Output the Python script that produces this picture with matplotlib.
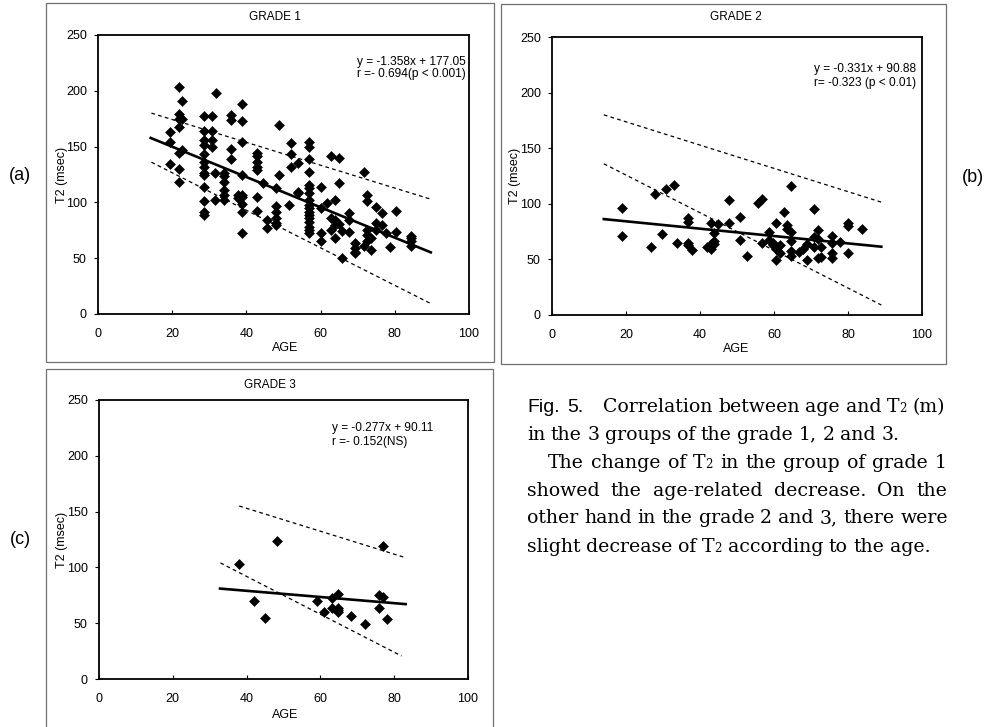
import matplotlib
matplotlib.use("Agg")
import matplotlib.pyplot as plt
from matplotlib.patches import Rectangle

W, H = 992, 727
SANS = ['Liberation Sans', 'DejaVu Sans']
SERIF = ['DejaVu Serif', 'Liberation Serif']
plt.rcParams['font.family'] = SANS

# ---- values ----
age_g1 = [19.5, 19.5, 19.5,
          21.7, 21.7, 21.7, 21.7, 21.7, 21.7, 21.7,
          22.6, 22.6, 22.6,
          28.6, 28.6, 28.6, 28.6, 28.6, 28.6, 28.6, 28.6, 28.6, 28.6, 28.6, 28.6, 28.6,
          30.6, 30.6, 30.6, 30.6, 31.7, 31.5, 31.5,
          34.0, 34.0, 34.0, 34.0, 34.0, 34.0,
          35.8, 35.8, 35.8, 35.8,
          38.7, 38.7, 38.7, 38.7, 38.7, 38.7, 38.7, 38.7, 38.7, 37.8, 37.8,
          42.8, 42.8, 42.8, 42.8, 42.8, 42.8, 42.8,
          44.6, 45.5, 45.5,
          48.0, 48.0, 48.0, 48.0, 48.0, 48.0, 48.7, 48.8,
          52.0, 52.0, 52.0, 51.4, 53.8, 53.8, 53.8,
          57.0, 57.0, 57.0, 57.0, 57.0, 57.0, 57.0, 57.0, 57.0, 57.0, 57.0, 57.0, 57.0,
          57.0, 57.0, 57.0, 57.0,
          60.0, 60.0, 60.0, 60.0, 61.8, 62.7, 62.7, 62.7,
          63.9, 63.9, 63.9, 63.9, 64.9, 64.9, 64.9, 65.8, 65.8,
          67.7, 67.7, 67.7, 69.4, 69.4, 69.4, 69.4, 71.6, 71.6,
          72.5, 72.5, 72.5, 72.5, 72.5, 73.7, 73.7, 74.8, 74.8, 74.8,
          76.6, 76.6, 77.7, 78.6, 80.4, 80.4, 84.5, 84.5, 84.5, 84.5]
t2_g1 = [163, 154, 134,
         203, 179, 175, 168, 144, 130, 118.5,
         190.5, 175, 147,
         177, 164, 155.6, 151, 143.8, 136, 132, 126.5, 124.4, 114, 101, 91.7, 88.7,
         177, 164, 155.6, 149.7, 198, 126.5, 102,
         126.5, 124, 118.5, 111, 106.5, 102,
         178, 173.5, 148, 139,
         188.4, 173, 154, 124.4, 106.5, 105, 99, 91.7, 73, 106.5, 103.6,
         144, 142, 136, 132, 129, 105, 92,
         117.6, 84, 77,
         112.5, 96.7, 91.7, 85.7, 81.8, 79.8, 124.4, 169,
         153, 143, 132, 97.6, 135.4, 109.5, 108,
         154, 149.7, 139, 127.4, 115.5, 112.5, 108, 102, 97.6, 94.6, 91.7, 88.7, 85.7,
         82.7, 78.3, 75.3, 72.3,
         114, 94.6, 73, 65.5, 99.7, 141.4, 85.7, 75.3,
         102, 84, 79.8, 67.9, 140, 117.6, 80.7, 74.4, 50,
         90.8, 84, 73.8, 63.4, 59, 56, 55, 127.4, 61,
         107, 101.5, 75.3, 70.8, 65, 57.4, 67.9, 96, 81.8, 75.3,
         90.8, 79.8, 72.3, 60.4, 92, 73.8, 70, 67.9, 65, 61]

age_g2 = [19.0, 19.0, 26.8, 27.8, 29.8, 30.8, 33.0, 33.8,
          36.8, 36.8, 36.8, 36.8, 37.9, 42.0, 42.9, 42.9, 42.9,
          43.8, 43.8, 43.8, 44.9, 47.8, 47.8, 50.8, 50.8, 52.8,
          55.7, 56.7, 56.7, 58.7, 58.7, 59.6, 59.6, 60.6, 60.6, 60.6,
          61.6, 61.6, 62.7, 63.6, 63.6, 64.7, 64.7, 64.7, 64.7, 64.7,
          66.8, 67.8, 68.8, 68.8, 70.7, 70.7, 70.7, 71.8, 71.8, 71.8,
          72.7, 72.7, 75.6, 75.6, 75.6, 75.6, 77.8, 79.9, 79.9, 79.9, 83.7]
t2_g2 = [96, 71, 61, 108.4, 72.4, 113.5, 117, 65,
         87.4, 83.5, 64.6, 62.5, 58.9, 61.6, 82.9, 63.4, 59.5,
         73.6, 66.4, 64, 82, 103.6, 82.6, 88, 67.6, 53.5,
         101, 104.5, 65, 75, 67, 64.6, 62.5, 82.6, 59.5, 49.5,
         62.5, 55.6, 92.5, 80.5, 77.5, 115.6, 74.5, 66.4, 58, 53.5,
         57, 59.5, 64, 49.5, 95, 70, 61, 76.6, 68.5, 51,
         61, 52, 70.6, 64.6, 55.6, 51, 66, 82.6, 80, 56, 77]

age_g3 = [38.0, 42.0, 45.1, 48.2, 59.2, 61.0, 63.1, 63.1,
          64.9, 64.9, 64.9, 64.9, 68.2, 72.1, 75.9, 75.9, 77.1, 77.1, 78.0]
t2_g3 = [102.7, 69.9, 54.3, 123.3, 69.9, 60.3, 72.2, 63.3,
         75.8, 63.9, 61.8, 60.3, 56.4, 49.3, 75.2, 63.9, 119, 73.7, 53.4]

# regression: slope, intercept, x from, x to
fit_g1 = (-1.358, 177.05, 14.2, 89.7)
fit_g2 = (-0.331, 90.88, 14.0, 89.0)
fit_g3 = (-0.277, 90.11, 32.8, 83.1)

# dashed limit lines (x start, x end) and (y start, y end)
hi_x_g1, hi_y_g1 = [14.4, 89.6], [180, 103]
lo_x_g1, lo_y_g1 = [14.4, 89.6], [136, 9.5]
hi_x_g2, hi_y_g2 = [14.0, 89.0], [180, 101.5]
lo_x_g2, lo_y_g2 = [14.0, 89.0], [136, 9]
hi_x_g3, hi_y_g3 = [38.0, 83.1], [155, 108.7]
lo_x_g3, lo_y_g3 = [32.9, 82.0], [104, 20.6]

fig = plt.figure(figsize=(W / 100, H / 100), dpi=100)


def fx(x):
    return x / W


def fy(y):
    return 1 - y / H


def frame(l, t, r, b):
    fig.add_artist(Rectangle((fx(l), fy(b)), (r - l) / W, (b - t) / H,
                             transform=fig.transFigure, fill=False,
                             ec='#707070', lw=0.9))


def panel(box, ages, t2s, fit, hx, hy, lx, ly, labx, agex, agey):
    l, t, r, b = box
    ax = fig.add_axes([fx(l), fy(b), (r - l) / W, (b - t) / H])
    ax.plot(ages, t2s, 'D', color='black', ms=4.6, mew=0.4, zorder=3)
    k, c, x0, x1 = fit
    ax.plot([x0, x1], [k * x0 + c, k * x1 + c], color='black', lw=1.9)
    ax.plot(hx, hy, color='black', lw=0.9, ls=(0, (3, 2.6)))
    ax.plot(lx, ly, color='black', lw=0.9, ls=(0, (3, 2.6)))
    ax.set_xlim(0, 100)
    ax.set_ylim(0, 250)
    ax.set_xticks([0, 20, 40, 60, 80, 100])
    ax.set_yticks([0, 50, 100, 150, 200, 250])
    ax.tick_params(axis='x', direction='in', length=3, pad=10, labelsize=9)
    ax.tick_params(axis='y', direction='out', length=3, pad=5, labelsize=9)
    for s in ax.spines.values():
        s.set_linewidth(1.3)
    ax.set_ylabel('T2 (msec)', fontsize=9)
    ax.yaxis.set_label_coords(-(l - labx) / (r - l), 0.5)
    ax.set_xlabel('AGE', fontsize=9)
    ax.xaxis.set_label_coords((agex - l) / (r - l), -(agey - b) / (b - t))
    return ax


frame(46, 3, 494, 362)
frame(501, 4, 946, 364)
frame(46, 369, 493, 740)

panel((98, 35, 469, 314), age_g1, t2_g1, fit_g1,
      hi_x_g1, hi_y_g1, lo_x_g1, lo_y_g1, 68, 285, 342)
panel((552, 37, 922, 315), age_g2, t2_g2, fit_g2,
      hi_x_g2, hi_y_g2, lo_x_g2, lo_y_g2, 521, 736, 343)
panel((99, 400, 468, 679), age_g3, t2_g3, fit_g3,
      hi_x_g3, hi_y_g3, lo_x_g3, lo_y_g3, 68, 285, 709)

fig.text(fx(275), fy(17), 'GRADE 1', fontsize=8.5, ha='center', va='center')
fig.text(fx(736), fy(17), 'GRADE 2', fontsize=8.5, ha='center', va='center')
fig.text(fx(270), fy(385), 'GRADE 3', fontsize=8.5, ha='center', va='center')

fig.text(fx(466), fy(62), 'y = -1.358x + 177.05', fontsize=8.6, ha='right', va='center')
fig.text(fx(466), fy(73.5), 'r =- 0.694(p < 0.001)', fontsize=8.6, ha='right', va='center')
fig.text(fx(916), fy(69), 'y = -0.331x + 90.88', fontsize=8.6, ha='right', va='center')
fig.text(fx(916), fy(83), 'r= -0.323 (p < 0.01)', fontsize=8.6, ha='right', va='center')
fig.text(fx(332), fy(428), 'y = -0.277x + 90.11', fontsize=8.6, ha='left', va='center')
fig.text(fx(332), fy(442.5), 'r =- 0.152(NS)', fontsize=8.6, ha='left', va='center')

fig.text(fx(20), fy(175), '(a)', fontsize=13, ha='center', va='center')
fig.text(fx(973), fy(178), '(b)', fontsize=13, ha='center', va='center')
fig.text(fx(20), fy(540), '(c)', fontsize=13, ha='center', va='center')

# ---- caption, laid out word by word so lines can be justified ----
renderer = fig.canvas.get_renderer()
CAP = 13.6


def word(s):
    if s.startswith('T2'):
        out = [('T', CAP, SERIF), ('2', 8.5, SERIF)]
        if s[2:]:
            out.append((s[2:], CAP, SERIF))
        return out
    return [(s, CAP, SERIF)]


def cap_line(pieces, y, x0, x1=None):
    placed = []
    for w in pieces:
        placed.append([fig.text(0, 0, s, fontsize=fs, family=fam, va='baseline')
                       for s, fs, fam in w])
    widths = [sum(t.get_window_extent(renderer).width for t in p) for p in placed]
    if x1 is None or len(placed) < 2:
        gap = 0.3 * CAP * 100 / 72
    else:
        gap = (x1 - x0 - sum(widths)) / (len(placed) - 1)
    x = x0
    for p, wd in zip(placed, widths):
        for t in p:
            t.set_position((fx(x), fy(y)))
            x += t.get_window_extent(renderer).width
        x += gap


cap_line([[('Fig.', 14, SANS)], [('5.', 14, SANS)]], 411.7, 527, 583)
cap_line([word(s) for s in 'Correlation between age and T2 (m)'.split()], 411.7, 603, 945)
cap_line([word(s) for s in 'in the 3 groups of the grade 1, 2 and 3.'.split()], 439.5, 527)
cap_line([word(s) for s in 'The change of T2 in the group of grade 1'.split()], 467.5, 548, 947)
cap_line([word(s) for s in 'showed the age-related decrease. On the'.split()], 495.5, 527, 947)
cap_line([word(s) for s in 'other hand in the grade 2 and 3, there were'.split()], 523.2, 527, 948)
cap_line([word(s) for s in 'slight decrease of T2 according to the age.'.split()], 551.5, 527)

fig.savefig('out.png', dpi=100)
